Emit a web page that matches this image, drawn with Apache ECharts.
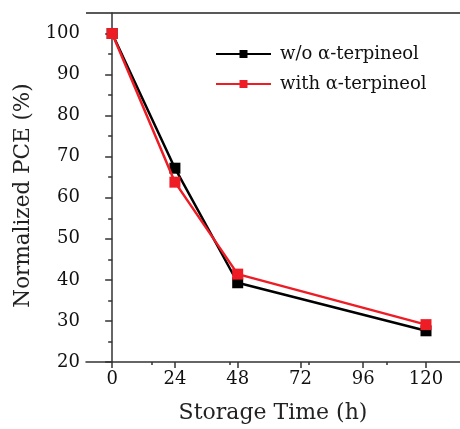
<!DOCTYPE html>
<html>
<head>
<meta charset="utf-8">
<script src="https://cdn.jsdelivr.net/npm/echarts@6/dist/echarts.min.js"></script>
<style>
  html, body { margin: 0; padding: 0; background: #fff; }
  #chart { width: 460px; height: 429px; }
</style>
</head>
<body>
<div id="chart"></div>
<script>
// storage time (h)
var hours = [0, 24, 48, 120];
// normalized PCE (%)
var withoutTerp = [100, 67.2, 39.3, 27.6];
var withTerp = [100, 63.8, 41.4, 29.1];
var seriesNames = ['w/o \u03b1-terpineol', 'with \u03b1-terpineol'];
var xTicks = [0, 24, 48, 72, 96, 120];
var yTicks = [20, 30, 40, 50, 60, 70, 80, 90, 100];

var FONT = 'DejaVu Serif';

function pairs(xs, ys) {
    return xs.map(function (x, i) { return [x, ys[i]]; });
}

var chart = echarts.init(document.getElementById('chart'));
var option = {
    animation: false,
    backgroundColor: '#fff',
    grid: {
        left: 86,
        right: 0,
        top: 13,
        bottom: 63
    },
    legend: {
        left: 210,
        top: 40,
        orient: 'vertical',
        itemWidth: 55,
        itemHeight: 10,
        itemGap: 12,
        data: seriesNames,
        textStyle: {
            fontFamily: FONT,
            fontSize: 18,
            color: '#111',
            padding: [0, 0, 0, 4]
        }
    },
    xAxis: {
        type: 'value',
        min: -10,
        max: 133,
        name: 'Storage Time (h)',
        nameLocation: 'middle',
        nameGap: 40,
        nameTextStyle: { fontFamily: FONT, fontSize: 22, color: '#222' },
        axisLine: { show: true, lineStyle: { color: '#333', width: 1.5 } },
        axisTick: { show: true, length: 6, lineStyle: { color: '#333', width: 1.5 }, customValues: xTicks },
        minorTick: { show: true, splitNumber: 2, length: 3, lineStyle: { color: '#333', width: 1.5 } },
        axisLabel: {
            fontFamily: FONT, fontSize: 18, color: '#111', margin: 8,
            customValues: xTicks
        },
        splitLine: { show: false }
    },
    yAxis: {
        type: 'value',
        min: 20,
        max: 105,
        interval: 10,
        name: 'Normalized PCE (%)',
        nameLocation: 'middle',
        nameGap: 52,
        nameTextStyle: { fontFamily: FONT, fontSize: 21.5, color: '#222', padding: [0, 16, 0, 0] },
        axisLine: { show: true, lineStyle: { color: '#333', width: 1.5 } },
        axisTick: { show: true, length: 7, lineStyle: { color: '#333', width: 1.5 }, customValues: yTicks },
        minorTick: { show: true, splitNumber: 2, length: 4, lineStyle: { color: '#333', width: 1.5 } },
        axisLabel: {
            fontFamily: FONT, fontSize: 18, color: '#111', margin: 6,
            customValues: yTicks
        },
        splitLine: { show: false }
    },
    graphic: [{
        type: 'line',
        shape: { x1: 86, y1: 13, x2: 460, y2: 13 },
        style: { stroke: '#222', lineWidth: 1.5 }
    }],
    series: [{
        name: seriesNames[0],
        type: 'line',
        data: pairs(hours, withoutTerp),
        symbol: 'rect',
        symbolSize: 11,
        itemStyle: { color: '#000' },
        lineStyle: { color: '#000', width: 2.5 },
        z: 2
    }, {
        name: seriesNames[1],
        type: 'line',
        data: pairs(hours, withTerp),
        symbol: 'rect',
        symbolSize: 11,
        itemStyle: { color: '#ee1c25' },
        lineStyle: { color: '#ee1c25', width: 2.5 },
        z: 3
    }]
};
chart.setOption(option);
</script>
</body>
</html>
